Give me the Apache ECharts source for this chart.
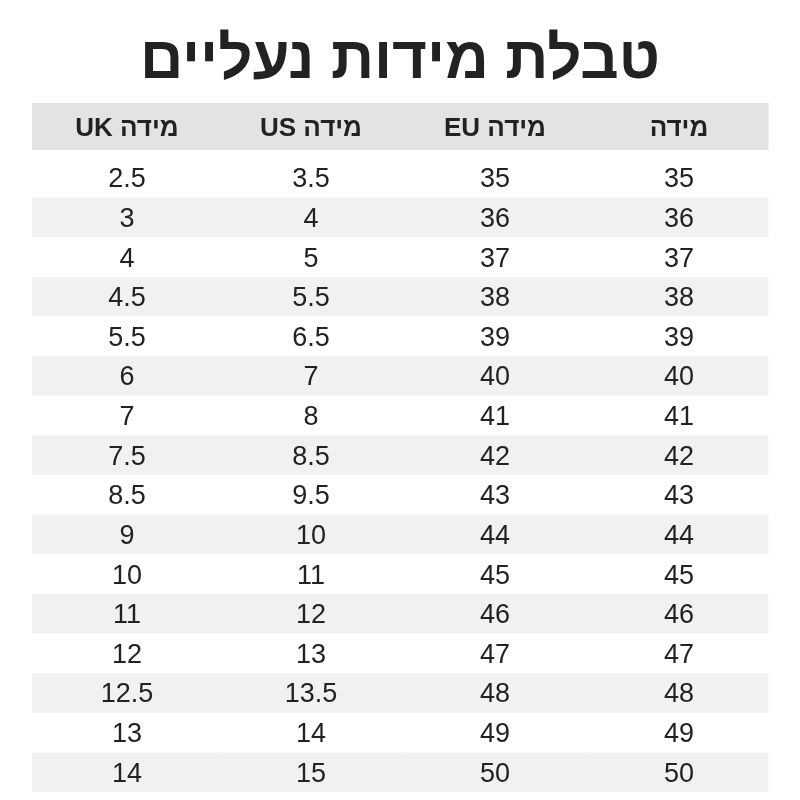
<!DOCTYPE html>
<html dir="rtl">
<head>
<meta charset="utf-8">
<script src="https://cdn.jsdelivr.net/npm/echarts@6/dist/echarts.min.js"></script>
<style>html,body{margin:0;padding:0;background:#fff}#chartDiv{width:800px;height:800px}</style>
</head>
<body>
<div id="chartDiv"></div>
<script>
var title = 'טבלת מידות נעליים';
// columns in visual order, left to right
var headers = ['מידה UK', 'מידה US', 'מידה EU', 'מידה'];
var sizes = ['35','36','37','38','39','40','41','42','43','44','45','46','47','48','49','50'];
var euSizes = ['35','36','37','38','39','40','41','42','43','44','45','46','47','48','49','50'];
var usSizes = ['3.5','4','5','5.5','6.5','7','8','8.5','9.5','10','11','12','13','13.5','14','15'];
var ukSizes = ['2.5','3','4','4.5','5.5','6','7','7.5','8.5','9','10','11','12','12.5','13','14'];

var myChart = echarts.init(document.getElementById('chartDiv'));
var font = '"Liberation Sans","DejaVu Sans",sans-serif';

var cols = [ukSizes, usSizes, euSizes, sizes];
var bodyData = [];
for (var r = 0; r < sizes.length; r++) {
    for (var c = 0; c < 4; c++) bodyData.push([c, r, cols[c][r]]);
}
var headData = headers.map(function (h, c) { return [c, 0, h]; });

var cell = function (isHead) {
    return function (params, api) {
        var p = api.coord([api.value(0), api.value(1)]);
        var s = api.size([1, 1]);
        var row = api.value(1);
        var fill = isHead ? '#e3e3e3' : (row % 2 === 1 ? '#f1f1f1' : '#ffffff');
        return {
            type: 'group',
            children: [{
                type: 'rect',
                shape: { x: p[0] - s[0] / 2, y: p[1] - s[1] / 2, width: s[0] + 0.5, height: s[1] },
                style: { fill: fill }
            }, {
                type: 'text',
                style: {
                    x: p[0] + 3, y: p[1] + 2, text: api.value(2),
                    textAlign: 'center', textVerticalAlign: 'middle',
                    fill: '#222', font: (isHead ? 'bold 26px ' : '27px ') + font
                }
            }]
        };
    };
};

var idx = [0, 1, 2, 3];
var rows = sizes.map(function (s, i) { return i; });

myChart.setOption({
    title: {
        text: title, left: 'center', top: 26,
        textStyle: { fontSize: 60, fontWeight: 'bold', color: '#222', fontFamily: font }
    },
    grid: [
        { left: 32, right: 32, top: 103, height: 47 },
        { left: 32, right: 32, top: 158, height: 634 }
    ],
    xAxis: [
        { type: 'category', data: idx, gridIndex: 0, show: false },
        { type: 'category', data: idx, gridIndex: 1, show: false }
    ],
    yAxis: [
        { type: 'category', data: [0], gridIndex: 0, show: false, inverse: true },
        { type: 'category', data: rows, gridIndex: 1, show: false, inverse: true }
    ],
    series: [
        { type: 'custom', xAxisIndex: 0, yAxisIndex: 0, data: headData, renderItem: cell(true), silent: true },
        { type: 'custom', xAxisIndex: 1, yAxisIndex: 1, data: bodyData, renderItem: cell(false), silent: true }
    ]
});
</script>
</body>
</html>
